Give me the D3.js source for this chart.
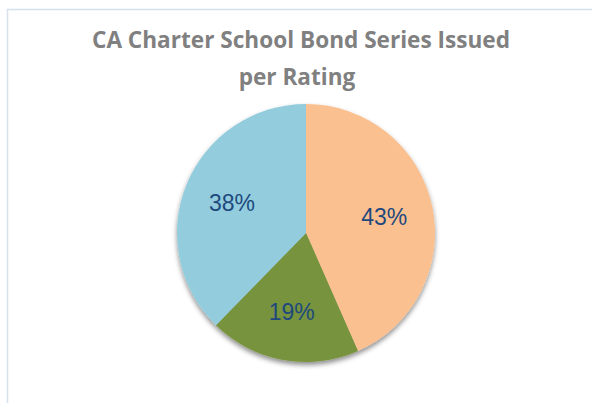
<!DOCTYPE html>
<html>
<head>
<meta charset="utf-8">
<script src="https://cdn.jsdelivr.net/npm/d3@7"></script>
<style>
  body { margin: 0; background: #fff; }
</style>
</head>
<body>
<div id="chart"></div>
<script>
// CA Charter School Bond Series pie

// Data
var ratings = ["A", "B", "C"];
var shares = [43.4, 18.9, 37.7];
var titleLines = ["CA Charter School Bond Series Issued", "per Rating"];

var colors = ["#FAC090", "#77933C", "#93CDDD"];

var svgWidth = 592;
var svgHeight = 403;

var cx = 306;
var cy = 233;
var radius = 129;

var svg = d3.select("#chart")
    .append("svg")
    .attr("width", svgWidth)
    .attr("height", svgHeight);

// drop shadow under the pie
var defs = svg.append("defs");
var shadow = defs.append("filter")
    .attr("id", "shadow")
    .attr("x", "-20%").attr("y", "-20%")
    .attr("width", "140%").attr("height", "140%");
shadow.append("feDropShadow")
    .attr("dx", 0)
    .attr("dy", 3)
    .attr("stdDeviation", 2.5)
    .attr("flood-color", "#000")
    .attr("flood-opacity", 0.45);

// chart frame (runs off right and bottom)
svg.append("rect")
    .attr("x", 7.5)
    .attr("y", 9.5)
    .attr("width", 700)
    .attr("height", 500)
    .attr("fill", "none")
    .attr("stroke", "#D7E1EE")
    .attr("stroke-width", 1.5);

// title
var title = svg.append("g")
    .attr("font-family", "'Open Sans', sans-serif")
    .attr("font-weight", "bold")
    .attr("fill", "#808080")
    .attr("text-anchor", "middle");

var fs = 24;
var t1 = title.append("text")
    .attr("x", 301)
    .attr("y", 47.5)
    .attr("font-size", fs)
    .text(titleLines[0]);

// squeeze to the width of the first line in the picture
var squeeze = 418 / t1.node().getComputedTextLength();
t1.attr("textLength", 418).attr("lengthAdjust", "spacingAndGlyphs");

var t2 = title.append("text")
    .attr("x", 297)
    .attr("y", 85)
    .attr("font-size", fs)
    .text(titleLines[1]);
t2.attr("textLength", t2.node().getComputedTextLength() * squeeze)
  .attr("lengthAdjust", "spacingAndGlyphs");

// pie
var pie = d3.pie().sort(null).value(d => d);
var arc = d3.arc().innerRadius(0).outerRadius(radius);
var labelArc = d3.arc().innerRadius(80).outerRadius(80);

var pieGroup = svg.append("g")
    .attr("transform", `translate(${cx}, ${cy})`);

pieGroup.append("g")
    .attr("filter", "url(#shadow)")
    .selectAll("path")
    .data(pie(shares))
    .enter()
    .append("path")
    .attr("d", arc)
    .attr("fill", (d, i) => colors[i]);

pieGroup.selectAll("text")
    .data(pie(shares))
    .enter()
    .append("text")
    .attr("transform", d => `translate(${labelArc.centroid(d)})`)
    .attr("dy", "0.35em")
    .attr("text-anchor", "middle")
    .attr("font-family", "'Liberation Sans', Arial, sans-serif")
    .attr("font-size", 23)
    .attr("fill", "#1F497D")
    .text(d => Math.round(d.value) + "%");
</script>
</body>
</html>
